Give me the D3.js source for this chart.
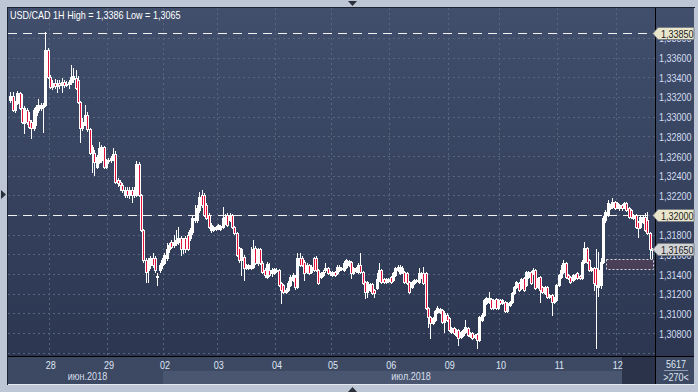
<!DOCTYPE html>
<html><head><meta charset="utf-8">
<script src="https://cdn.jsdelivr.net/npm/d3@7"></script>
<style>html,body{margin:0;padding:0;background:#bcc6d4;overflow:hidden}</style>
</head><body>
<svg id="c" width="698" height="392"></svg>
<script>
const symbol = "USD/CAD", timeframe = "1H";
const opens = [
1.3317,1.3321,1.3307,1.3314,1.3324,1.3309,1.3294,1.3307,1.3297,1.3295,
1.3288,1.3302,1.3307,1.3309,1.3310,1.3312,1.3368,1.3340,1.3330,1.3334,
1.3331,1.3334,1.3332,1.3335,1.3332,1.3333,1.3335,1.3338,1.3339,1.3337,
1.3315,1.3288,1.3292,1.3302,1.3287,1.3263,1.3263,1.3249,1.3254,1.3256,
1.3269,1.3249,1.3255,1.3256,1.3258,1.3262,1.3236,1.3234,1.3231,1.3220,
1.3225,1.3220,1.3225,1.3220,1.3220,1.3252,1.3220,1.3185,1.3154,1.3144,
1.3149,1.3156,1.3156,1.3137,1.3144,1.3149,1.3151,1.3156,1.3165,1.3173,
1.3170,1.3172,1.3173,1.3177,1.3165,1.3177,1.3180,1.3177,1.3183,1.3195,
1.3195,1.3205,1.3220,1.3220,1.3210,1.3200,1.3185,1.3185,1.3186,1.3187,
1.3186,1.3188,1.3193,1.3200,1.3195,1.3200,1.3188,1.3182,1.3167,1.3154,
1.3157,1.3146,1.3146,1.3146,1.3147,1.3167,1.3151,1.3165,1.3151,1.3144,
1.3137,1.3144,1.3141,1.3141,1.3143,1.3144,1.3131,1.3129,1.3122,1.3124,
1.3129,1.3134,1.3137,1.3127,1.3156,1.3156,1.3152,1.3142,1.3149,1.3142,
1.3156,1.3156,1.3144,1.3137,1.3139,1.3144,1.3146,1.3141,1.3139,1.3142,
1.3141,1.3144,1.3145,1.3144,1.3147,1.3149,1.3152,1.3141,1.3143,1.3142,
1.3149,1.3142,1.3132,1.3122,1.3124,1.3130,1.3124,1.3126,1.3134,1.3144,
1.3135,1.3132,1.3133,1.3137,1.3134,1.3139,1.3144,1.3141,1.3142,1.3142,
1.3141,1.3132,1.3127,1.3131,1.3133,1.3132,1.3137,1.3141,1.3141,1.3106,
1.3096,1.3090,1.3093,1.3101,1.3101,1.3104,1.3091,1.3098,1.3095,1.3081,
1.3085,1.3078,1.3083,1.3076,1.3078,1.3081,1.3085,1.3077,1.3080,1.3076,
1.3079,1.3073,1.3093,1.3098,1.3111,1.3112,1.3115,1.3106,1.3115,1.3106,
1.3114,1.3111,1.3112,1.3102,1.3109,1.3112,1.3121,1.3127,1.3131,1.3126,
1.3136,1.3129,1.3137,1.3142,1.3141,1.3144,1.3127,1.3137,1.3127,1.3121,
1.3127,1.3117,1.3119,1.3112,1.3114,1.3129,1.3137,1.3142,1.3151,1.3139,
1.3137,1.3134,1.3136,1.3141,1.3138,1.3136,1.3152,1.3167,1.3154,1.3144,
1.3146,1.3146,1.3127,1.3129,1.3152,1.3195,1.3200,1.3207,1.3208,1.3213,
1.3208,1.3207,1.3210,1.3208,1.3212,1.3207,1.3205,1.3197,1.3200,1.3193,
1.3188,1.3193,1.3198,1.3195,1.3182,1.3164];
const highs = [
1.3325,1.3325,1.3316,1.3326,1.3325,1.3323,1.3311,1.3309,1.3305,1.3297,
1.3309,1.3312,1.3318,1.3314,1.3314,1.3386,1.3370,1.3342,1.3337,1.3338,
1.3337,1.3337,1.3339,1.3337,1.3336,1.3337,1.3352,1.3349,1.3347,1.3341,
1.3316,1.3299,1.3312,1.3305,1.3288,1.3271,1.3266,1.3261,1.3274,1.3271,
1.3270,1.3257,1.3258,1.3260,1.3268,1.3265,1.3238,1.3236,1.3233,1.3228,
1.3228,1.3228,1.3228,1.3228,1.3255,1.3254,1.3221,1.3186,1.3156,1.3156,
1.3158,1.3161,1.3158,1.3141,1.3151,1.3156,1.3161,1.3172,1.3172,1.3175,
1.3180,1.3185,1.3188,1.3179,1.3177,1.3179,1.3183,1.3187,1.3199,1.3210,
1.3210,1.3223,1.3225,1.3222,1.3212,1.3202,1.3192,1.3189,1.3189,1.3191,
1.3190,1.3208,1.3201,1.3202,1.3202,1.3201,1.3189,1.3183,1.3168,1.3167,
1.3159,1.3150,1.3150,1.3168,1.3175,1.3169,1.3167,1.3167,1.3153,1.3146,
1.3152,1.3151,1.3146,1.3146,1.3146,1.3145,1.3132,1.3130,1.3126,1.3133,
1.3139,1.3141,1.3139,1.3161,1.3161,1.3158,1.3154,1.3151,1.3150,1.3149,
1.3157,1.3158,1.3145,1.3142,1.3144,1.3151,1.3147,1.3143,1.3143,1.3143,
1.3149,1.3149,1.3147,1.3153,1.3155,1.3154,1.3153,1.3147,1.3147,1.3151,
1.3161,1.3143,1.3133,1.3133,1.3131,1.3131,1.3125,1.3141,1.3151,1.3145,
1.3136,1.3136,1.3136,1.3138,1.3142,1.3147,1.3149,1.3149,1.3148,1.3143,
1.3142,1.3133,1.3133,1.3135,1.3135,1.3146,1.3142,1.3147,1.3142,1.3107,
1.3097,1.3096,1.3103,1.3108,1.3106,1.3105,1.3102,1.3100,1.3096,1.3086,
1.3086,1.3084,1.3084,1.3082,1.3084,1.3093,1.3086,1.3081,1.3081,1.3079,
1.3080,1.3097,1.3100,1.3115,1.3117,1.3122,1.3116,1.3115,1.3116,1.3115,
1.3115,1.3115,1.3113,1.3112,1.3113,1.3122,1.3128,1.3133,1.3132,1.3136,
1.3137,1.3143,1.3143,1.3143,1.3146,1.3145,1.3137,1.3138,1.3128,1.3128,
1.3128,1.3120,1.3120,1.3117,1.3130,1.3140,1.3149,1.3154,1.3152,1.3140,
1.3138,1.3140,1.3140,1.3142,1.3139,1.3154,1.3173,1.3168,1.3155,1.3147,
1.3147,1.3165,1.3162,1.3156,1.3199,1.3205,1.3215,1.3211,1.3217,1.3214,
1.3213,1.3211,1.3211,1.3213,1.3213,1.3208,1.3206,1.3201,1.3201,1.3194,
1.3199,1.3200,1.3202,1.3203,1.3183,1.3167];
const lows = [
1.3315,1.3306,1.3305,1.3313,1.3308,1.3294,1.3283,1.3293,1.3288,1.3278,
1.3286,1.3292,1.3305,1.3307,1.3284,1.3311,1.3339,1.3329,1.3328,1.3329,
1.3325,1.3329,1.3325,1.3330,1.3331,1.3329,1.3333,1.3335,1.3328,1.3314,
1.3274,1.3286,1.3291,1.3285,1.3262,1.3244,1.3241,1.3248,1.3253,1.3254,
1.3248,1.3248,1.3253,1.3254,1.3256,1.3233,1.3230,1.3225,1.3223,1.3218,
1.3218,1.3217,1.3213,1.3218,1.3219,1.3219,1.3184,1.3152,1.3132,1.3132,
1.3146,1.3147,1.3142,1.3129,1.3142,1.3146,1.3150,1.3154,1.3162,1.3166,
1.3168,1.3170,1.3171,1.3159,1.3161,1.3162,1.3164,1.3175,1.3181,1.3193,
1.3193,1.3203,1.3208,1.3199,1.3196,1.3187,1.3183,1.3184,1.3185,1.3186,
1.3185,1.3187,1.3191,1.3189,1.3194,1.3187,1.3181,1.3158,1.3152,1.3139,
1.3134,1.3145,1.3145,1.3145,1.3146,1.3150,1.3149,1.3150,1.3141,1.3137,
1.3136,1.3138,1.3138,1.3140,1.3142,1.3128,1.3111,1.3121,1.3121,1.3123,
1.3128,1.3133,1.3125,1.3126,1.3148,1.3148,1.3134,1.3141,1.3140,1.3141,
1.3143,1.3143,1.3130,1.3136,1.3138,1.3142,1.3140,1.3139,1.3138,1.3138,
1.3140,1.3143,1.3144,1.3143,1.3146,1.3148,1.3136,1.3140,1.3142,1.3141,
1.3141,1.3130,1.3116,1.3117,1.3123,1.3120,1.3117,1.3125,1.3133,1.3131,
1.3131,1.3131,1.3132,1.3131,1.3133,1.3138,1.3143,1.3140,1.3141,1.3131,
1.3130,1.3121,1.3126,1.3130,1.3132,1.3131,1.3136,1.3130,1.3105,1.3086,
1.3075,1.3089,1.3092,1.3100,1.3100,1.3090,1.3081,1.3092,1.3082,1.3080,
1.3079,1.3077,1.3068,1.3075,1.3077,1.3080,1.3077,1.3076,1.3074,1.3075,
1.3065,1.3072,1.3092,1.3097,1.3110,1.3111,1.3105,1.3105,1.3105,1.3105,
1.3110,1.3110,1.3101,1.3101,1.3108,1.3111,1.3120,1.3126,1.3123,1.3125,
1.3123,1.3128,1.3136,1.3130,1.3140,1.3125,1.3126,1.3112,1.3121,1.3120,
1.3116,1.3116,1.3098,1.3111,1.3113,1.3128,1.3136,1.3141,1.3136,1.3135,
1.3131,1.3133,1.3135,1.3135,1.3135,1.3135,1.3151,1.3151,1.3143,1.3143,
1.3124,1.3065,1.3118,1.3126,1.3151,1.3193,1.3199,1.3206,1.3207,1.3206,
1.3207,1.3205,1.3205,1.3207,1.3204,1.3197,1.3197,1.3196,1.3187,1.3178,
1.3187,1.3192,1.3184,1.3181,1.3156,1.3156];
const closes = [
1.3321,1.3307,1.3314,1.3324,1.3309,1.3295,1.3309,1.3295,1.3289,1.3288,
1.3307,1.3310,1.3312,1.3312,1.3312,1.3368,1.3340,1.3330,1.3334,1.3331,
1.3334,1.3332,1.3335,1.3332,1.3333,1.3335,1.3340,1.3341,1.3329,1.3315,
1.3288,1.3295,1.3302,1.3287,1.3263,1.3269,1.3254,1.3259,1.3268,1.3269,
1.3249,1.3255,1.3256,1.3258,1.3262,1.3234,1.3233,1.3231,1.3225,1.3225,
1.3220,1.3225,1.3220,1.3225,1.3252,1.3220,1.3185,1.3154,1.3142,1.3154,
1.3156,1.3149,1.3144,1.3138,1.3149,1.3154,1.3159,1.3165,1.3170,1.3168,
1.3173,1.3175,1.3177,1.3165,1.3175,1.3165,1.3165,1.3185,1.3197,1.3197,
1.3207,1.3218,1.3210,1.3200,1.3197,1.3188,1.3190,1.3188,1.3188,1.3190,
1.3189,1.3197,1.3198,1.3190,1.3200,1.3188,1.3182,1.3159,1.3154,1.3165,
1.3146,1.3149,1.3149,1.3149,1.3165,1.3151,1.3165,1.3151,1.3142,1.3139,
1.3150,1.3139,1.3144,1.3145,1.3144,1.3129,1.3124,1.3122,1.3124,1.3131,
1.3137,1.3139,1.3127,1.3156,1.3149,1.3149,1.3141,1.3149,1.3141,1.3147,
1.3144,1.3144,1.3131,1.3141,1.3142,1.3146,1.3141,1.3142,1.3142,1.3139,
1.3147,1.3147,1.3146,1.3151,1.3154,1.3153,1.3141,1.3146,1.3146,1.3149,
1.3142,1.3131,1.3122,1.3132,1.3130,1.3121,1.3121,1.3135,1.3144,1.3132,
1.3132,1.3135,1.3135,1.3132,1.3141,1.3146,1.3147,1.3147,1.3146,1.3132,
1.3131,1.3122,1.3132,1.3134,1.3134,1.3141,1.3141,1.3131,1.3106,1.3096,
1.3090,1.3095,1.3102,1.3106,1.3105,1.3091,1.3100,1.3093,1.3083,1.3085,
1.3080,1.3083,1.3075,1.3081,1.3083,1.3086,1.3078,1.3080,1.3075,1.3078,
1.3073,1.3096,1.3098,1.3114,1.3116,1.3116,1.3106,1.3114,1.3106,1.3114,
1.3111,1.3114,1.3102,1.3111,1.3112,1.3121,1.3127,1.3132,1.3124,1.3135,
1.3124,1.3142,1.3142,1.3131,1.3144,1.3126,1.3136,1.3124,1.3122,1.3127,
1.3117,1.3119,1.3112,1.3116,1.3129,1.3139,1.3144,1.3151,1.3137,1.3136,
1.3132,1.3139,1.3139,1.3136,1.3136,1.3152,1.3167,1.3152,1.3144,1.3146,
1.3131,1.3129,1.3144,1.3152,1.3197,1.3203,1.3212,1.3210,1.3213,1.3207,
1.3212,1.3210,1.3207,1.3212,1.3205,1.3198,1.3198,1.3200,1.3188,1.3187,
1.3198,1.3198,1.3185,1.3182,1.3165,1.3165];

const dayTickIndex = [17,42,66,89,114,138,163,188,210,235,260];
const dayTickLabels = ["28","29","02","03","04","05","06","09","10","11","12"];
const monthLabels = ["июн.2018","июл.2018"];
const monthStartIndex = [0,66];
const priceTicks = [1.3060,1.3080,1.3100,1.3120,1.3140,1.3160,1.3180,1.3200,1.3220,1.3240,1.3260,1.3280,1.3300,1.3320,1.3340,1.3360,1.3380];
const levelPrices = [1.3385,1.3200];
const zonePrices = [1.3145,1.3155];
const zoneIndex = [256,276];
const footerTexts = ["5617",">270<"];

const N = closes.length;
const svg = d3.select("#c");
const FONT = "'Liberation Sans', Arial, sans-serif";
const SX = 0.86;
const comma = s => s.replace(".", ",");
const fmt4 = v => comma(d3.format(".4f")(v));
const fmt5 = v => comma(d3.format(".5f")(v));

const P = {l:8, t:8, r:655, b:356};
const x = d3.scaleLinear().domain([0, N]).range([9, 653]);
const y = d3.scaleLinear().domain([1.3060, 1.3385]).range([352.8, 33]);

const defs = svg.append("defs");
const grad = defs.append("linearGradient").attr("id","bg").attr("x1",0).attr("y1",0).attr("x2",0).attr("y2",1);
grad.append("stop").attr("offset","0%").attr("stop-color","#414f6c");
grad.append("stop").attr("offset","100%").attr("stop-color","#2c3651");
defs.append("clipPath").attr("id","clip").append("rect")
  .attr("x",P.l).attr("y",P.t).attr("width",P.r-P.l).attr("height",P.b-P.t);
defs.append("clipPath").attr("id","clipR").append("rect")
  .attr("x",P.r+1).attr("y",P.t).attr("width",694-P.r-1).attr("height",P.b-P.t);

// frame
svg.append("rect").attr("width",698).attr("height",392).attr("fill","#bcc6d4");
svg.append("rect").attr("x",P.l).attr("y",P.t).attr("width",694-P.l).attr("height",P.b-P.t).attr("fill","url(#bg)");
// bottom band
svg.append("rect").attr("x",P.l).attr("y",357).attr("width",694-P.l).attr("height",27).attr("fill","#3d4962");
svg.append("rect").attr("x",Math.round(x(monthStartIndex[1]))).attr("y",371).attr("width",P.r-Math.round(x(monthStartIndex[1]))).attr("height",13).attr("fill","#4a5670");
svg.append("rect").attr("x",622).attr("y",357).attr("width",33).attr("height",27).attr("fill","#2a3349");
svg.append("line").attr("x1",664).attr("x2",688).attr("y1",370.5).attr("y2",370.5).attr("stroke","#8c9ab2");
// borders
svg.append("line").attr("x1",7.5).attr("x2",7.5).attr("y1",7).attr("y2",385).attr("stroke","#1c2230");
svg.append("line").attr("x1",7).attr("x2",695).attr("y1",7.5).attr("y2",7.5).attr("stroke","#1c2230");
svg.append("line").attr("x1",8).attr("x2",695).attr("y1",384.5).attr("y2",384.5).attr("stroke","#e4e9f0");
svg.append("line").attr("x1",P.r+0.5).attr("x2",P.r+0.5).attr("y1",8).attr("y2",384).attr("stroke","#000");
svg.append("line").attr("x1",P.l).attr("x2",694).attr("y1",P.b+0.5).attr("y2",P.b+0.5).attr("stroke","#000");
// scroll arrows
svg.append("path").attr("d","M348,1 L357,1 L352.5,6 Z").attr("fill","#2a2f3a");
svg.append("path").attr("d","M348,392 L357,392 L352.5,387 Z").attr("fill","#2a2f3a");
svg.append("path").attr("d","M1,190 L1,199 L6,194.5 Z").attr("fill","#2a2f3a");

const plot = svg.append("g").attr("clip-path","url(#clip)");
// grid
plot.selectAll("line.hg").data(priceTicks).join("line").attr("class","hg")
  .attr("x1",P.l).attr("x2",P.r).attr("y1",d=>Math.round(y(d))+0.5).attr("y2",d=>Math.round(y(d))+0.5)
  .attr("stroke","#58657f").attr("stroke-dasharray","2,3");
plot.selectAll("line.vg").data(dayTickIndex).join("line").attr("class","vg")
  .attr("x1",d=>Math.round(x(d))+0.5).attr("x2",d=>Math.round(x(d))+0.5).attr("y1",P.t).attr("y2",P.b)
  .attr("stroke","#58657f").attr("stroke-dasharray","2,3");
// level lines
plot.selectAll("line.lv").data(levelPrices).join("line").attr("class","lv")
  .attr("x1",P.l).attr("x2",P.r).attr("y1",d=>Math.round(y(d))+0.5).attr("y2",d=>Math.round(y(d))+0.5)
  .attr("stroke","#f2f2f2").attr("stroke-dasharray","9,6");
// zone
plot.append("rect")
  .attr("x",Math.round(x(zoneIndex[0]))+0.5).attr("y",Math.round(y(zonePrices[1]))+0.5)
  .attr("width",Math.round(x(zoneIndex[1]))-Math.round(x(zoneIndex[0])))
  .attr("height",Math.round(y(zonePrices[0]))-Math.round(y(zonePrices[1])))
  .attr("fill","#4b3f58").attr("stroke","#dcdce6").attr("stroke-dasharray","2,2");
// candles
const cg = plot.selectAll("g.cd").data(d3.range(N)).join("g").attr("class","cd");
cg.each(function(i){
  const g = d3.select(this);
  const cx = Math.round(x(i+0.5));
  const o = opens[i], c = closes[i];
  g.append("line").attr("x1",cx+0.5).attr("x2",cx+0.5)
    .attr("y1",Math.round(y(highs[i]))).attr("y2",Math.round(y(lows[i]))+1).attr("stroke","#fff");
  const top = Math.round(y(Math.max(o,c))), bot = Math.round(y(Math.min(o,c)));
  const h = Math.max(1, bot-top+1);
  g.append("rect").attr("x",cx-1).attr("y",top).attr("width",3).attr("height",h).attr("fill","#fff");
  if (c < o && h >= 3) g.append("rect").attr("x",cx).attr("y",top+1).attr("width",1).attr("height",h-2).attr("fill","#e3123c");
});

// title
svg.append("text").attr("transform","translate(10,19) scale("+SX+",1)")
  .attr("font-family",FONT).attr("font-size","10.5px").attr("fill","#ffffff")
  .text(`${symbol} ${timeframe} High = ${fmt4(d3.max(highs))} Low = ${fmt4(d3.min(lows))}`);

// right axis (labels clipped to the axis panel like the original)
const ya = svg.append("g").attr("clip-path","url(#clipR)").append("g").attr("transform",`translate(${P.r+1},0)`)
  .call(d3.axisRight(y).tickValues(priceTicks.filter(d => y(d) < P.b - 8)).tickFormat(fmt5).tickSize(0));
ya.select(".domain").remove();
ya.selectAll("text").attr("x",0).attr("dy",null).attr("y",4)
  .attr("transform",`translate(3,0) scale(${SX},1)`)
  .attr("font-family",FONT).attr("font-size","10.5px").attr("fill","#d2def2").attr("text-anchor","start");

// price label boxes
const boxes = levelPrices.map(p => ({p, fill:"#e9e6cc"})).concat([{p: closes[N-1], fill:"#d2d4d6"}]);
const bg = svg.selectAll("g.pb").data(boxes).join("g").attr("class","pb")
  .attr("transform", d => `translate(0,${Math.round(y(d.p))+0.5})`);
bg.append("path").attr("d","M653,0 L658,-6 L694,-6 L694,6 L658,6 Z")
  .attr("fill",d=>d.fill).attr("stroke","#7b7f86");
bg.append("text").attr("transform",`translate(661,4) scale(${SX},1)`)
  .attr("font-family",FONT).attr("font-size","10.5px").attr("fill","#1b1b1b").text(d=>fmt5(d.p));

// bottom axis
const xa = svg.append("g").attr("transform",`translate(1.5,${P.b})`)
  .call(d3.axisBottom(x).tickValues(dayTickIndex).tickFormat((d,i)=>dayTickLabels[i]).tickSize(0));
xa.select(".domain").remove();
xa.selectAll("text").attr("y",0).attr("dy",null)
  .attr("transform",`translate(0,13) scale(${SX},1)`)
  .attr("font-family",FONT).attr("font-size","10.5px").attr("fill","#dde6f4");

// month labels centered in their spans
const spans = monthStartIndex.map((s,i)=>[i===0?P.l:Math.round(x(s)), i+1<monthStartIndex.length?Math.round(x(monthStartIndex[i+1])):P.r]);
svg.selectAll("text.mo").data(monthLabels).join("text").attr("class","mo")
  .attr("transform",(d,i)=>`translate(${(spans[i][0]+spans[i][1])/2+2},380) scale(${SX},1)`)
  .attr("text-anchor","middle").attr("font-family",FONT).attr("font-size","10.5px").attr("fill","#d6dfec").text(d=>d);

// footer box
const footY = [368, 381];
svg.selectAll("text.ft").data(footerTexts).join("text").attr("class","ft")
  .attr("x",676/SX).attr("y",(d,i)=>footY[i]).attr("transform",`scale(${SX},1)`)
  .attr("text-anchor","middle").attr("font-family",FONT).attr("font-size","10.5px").attr("fill","#dde6f4").text(d=>d);
</script>
</body></html>
